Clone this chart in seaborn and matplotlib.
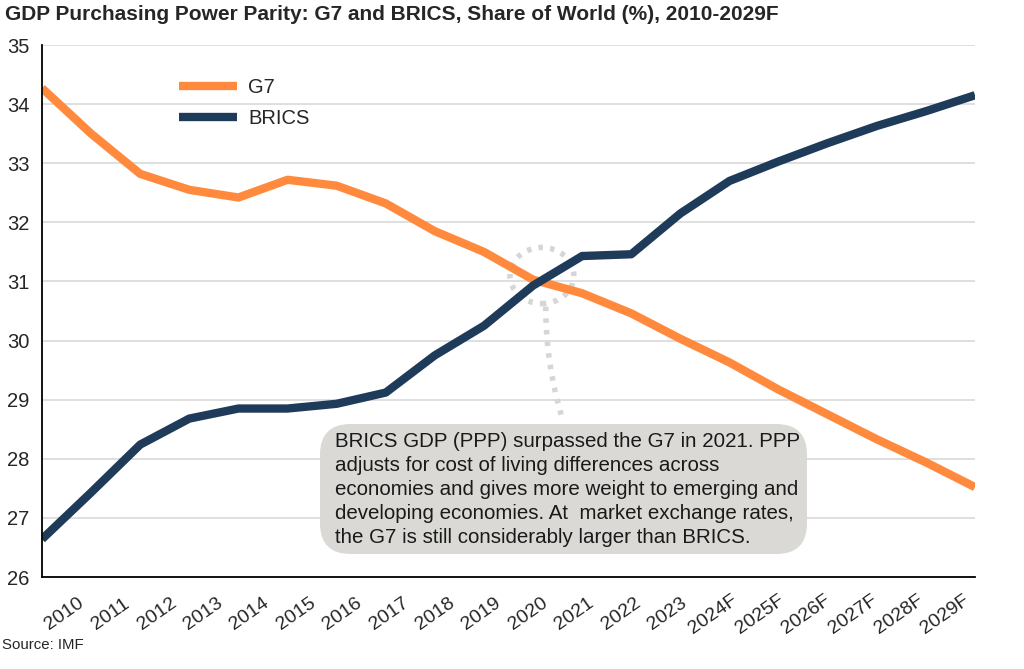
import matplotlib
matplotlib.use("Agg")
import matplotlib.pyplot as plt
import matplotlib.transforms as mtrans
import seaborn as sns
import pandas as pd
import numpy as np
from matplotlib.patches import Ellipse, FancyArrowPatch, FancyBboxPatch

years = ["2010", "2011", "2012", "2013", "2014", "2015", "2016", "2017", "2018", "2019",
         "2020", "2021", "2022", "2023", "2024F", "2025F", "2026F", "2027F", "2028F", "2029F"]
g7 = [34.27, 33.50, 32.82, 32.55, 32.42, 32.72, 32.62, 32.32, 31.85, 31.50,
      31.03, 30.80, 30.46, 30.03, 29.63, 29.17, 28.75, 28.33, 27.94, 27.52]
brics = [26.64, 27.43, 28.24, 28.68, 28.85, 28.85, 28.93, 29.12, 29.75, 30.25,
         30.93, 31.43, 31.46, 32.15, 32.70, 33.03, 33.34, 33.63, 33.88, 34.15]
y_ticks = [26, 27, 28, 29, 30, 31, 32, 33, 34, 35]

sns.set_theme(style="white")
plt.rcParams['font.family'] = ['Liberation Sans', 'DejaVu Sans']

df = pd.DataFrame({
    "x": list(range(len(years))) * 2,
    "value": g7 + brics,
    "series": ["G7"] * len(years) + ["BRICS"] * len(years),
})

W, H = 1024, 669
fig = plt.figure(figsize=(W / 100, H / 100), dpi=100)
ax = fig.add_axes([42 / W, 1 - 577 / H, (975 - 42) / W, (577 - 45) / H])

palette = {"G7": "#FF8A3D", "BRICS": "#1F3B5A"}
sns.lineplot(data=df, x="x", y="value", hue="series", palette=palette,
             linewidth=6, ax=ax, legend=True, solid_capstyle="butt")

n = len(years)
ax.set_xlim(0, n - 1)
ax.set_ylim(26, 35)
ax.set_yticks(y_ticks)
ax.set_yticklabels([str(t) for t in y_ticks], fontsize=14.5)
ax.tick_params(axis="y", pad=9, length=0)

# category labels: spread slightly narrower than the plotted points (as in the source)
ax.set_xticks([])
span = n - 1
lab_first, lab_last = 0.45, span - 0.6
offset = mtrans.ScaledTranslation(0, -37 / 100, fig.dpi_scale_trans)
for i, lab in enumerate(years):
    xp = lab_first + (lab_last - lab_first) * i / span
    ax.text(xp, 26, lab, transform=ax.transData + offset, rotation=35, ha="center",
            va="center", rotation_mode="anchor", fontsize=14, clip_on=False)

ax.set_xlabel("")
ax.set_ylabel("")
ax.yaxis.grid(True, color="#D9D9D9", linewidth=1.2)
ax.xaxis.grid(False)
for s in ["top", "right"]:
    ax.spines[s].set_visible(False)
for s in ["left", "bottom"]:
    ax.spines[s].set_color("black")
    ax.spines[s].set_linewidth(1.3)

leg = ax.legend(loc="upper left", bbox_to_anchor=(0.127, 0.972), frameon=False,
                fontsize=14.5, handlelength=2.9, handletextpad=0.55, labelspacing=0.6)
for line in leg.get_lines():
    line.set_linewidth(6)

# dotted ellipse around crossing
dot = (0, (0.8, 1.3))
ell = Ellipse((10.18, 31.1), width=1.3, height=0.95, fill=False,
              edgecolor="#D6D6D6", linewidth=4, linestyle=dot, zorder=1)
ell.set_capstyle("butt")
ax.add_patch(ell)
conn = FancyArrowPatch((10.26, 30.62), (10.62, 28.62), arrowstyle="-",
                       connectionstyle="arc3,rad=0.08", color="#D6D6D6",
                       linewidth=4, linestyle=dot, zorder=1)
conn.set_capstyle("butt")
ax.add_patch(conn)

# annotation box
box = FancyBboxPatch((320 / W, 1 - 554 / H), (807 - 320) / W, (554 - 424) / H,
                     boxstyle="round,pad=0,rounding_size=0.03", transform=fig.transFigure,
                     facecolor="#DAD9D5", edgecolor="none", zorder=4,
                     mutation_aspect=W / H)
fig.patches.append(box)
note = ("BRICS GDP (PPP) surpassed the G7 in 2021. PPP\n"
        "adjusts for cost of living differences across\n"
        "economies and gives more weight to emerging and\n"
        "developing economies. At  market exchange rates,\n"
        "the G7 is still considerably larger than BRICS.")
fig.text(335 / W, 1 - 432 / H, note, fontsize=14.8, va="top", ha="left",
         linespacing=1.33, color="#1a1a1a", zorder=5)

fig.text(5 / W, 1 - 14 / H, "GDP Purchasing Power Parity: G7 and BRICS, Share of World (%), 2010-2029F",
         fontsize=15, fontweight="bold", va="center", ha="left")
fig.text(2 / W, 1 - 645 / H, "Source: IMF", fontsize=10.8, va="center", ha="left")

fig.savefig("out.png", dpi=100)
